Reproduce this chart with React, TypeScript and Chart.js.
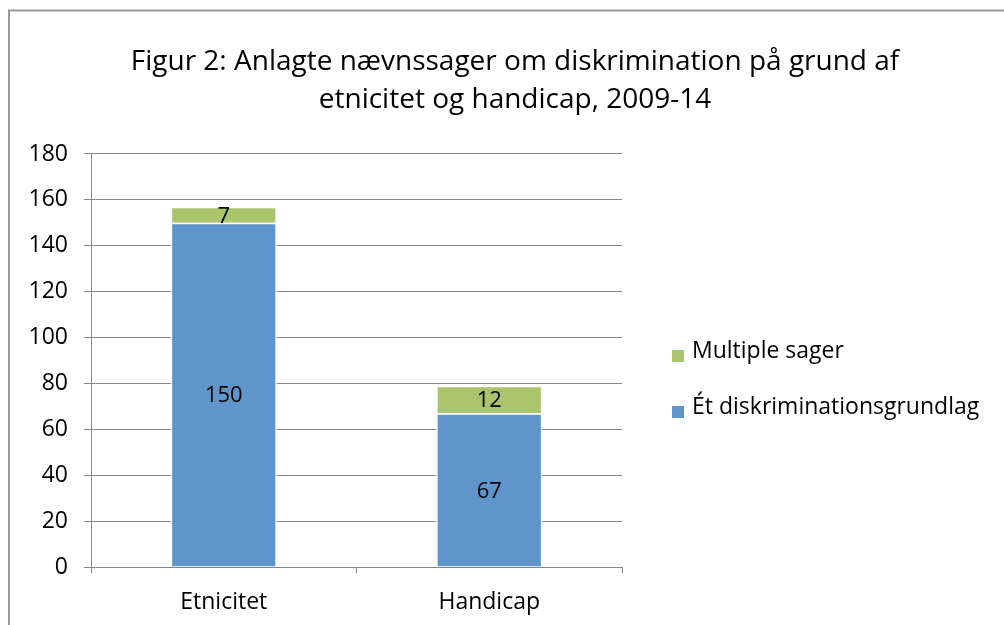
import React, { useEffect, useRef } from "react";
import { Chart, registerables } from "chart.js";

Chart.register(...registerables);

const categories = ["Etnicitet", "Handicap"];
const seriesNames = ["Ét diskriminationsgrundlag", "Multiple sager"];
const singleGround = [150, 67];
const multipleCases = [7, 12];
const titleLines = [
  "Figur 2: Anlagte nævnssager om diskrimination på grund af",
  "etnicitet og handicap, 2009-14",
];
const yMin = 0;
const yMax = 180;
const yStep = 20;

const FONT = "'Open Sans', Lato, sans-serif";
const BLUE = "#5F95CA";
const GREEN = "#A9C46C";

const framePlugin = {
  id: "frame",
  beforeDraw(chart: any) {
    const ctx = chart.ctx;
    ctx.save();
    ctx.fillStyle = "#ffffff";
    ctx.fillRect(0, 0, chart.width, chart.height);
    ctx.strokeStyle = "#9a9a9a";
    ctx.lineWidth = 2;
    ctx.beginPath();
    ctx.moveTo(9, chart.height + 5);
    ctx.lineTo(9, 10.5);
    ctx.lineTo(chart.width + 5, 10.5);
    ctx.stroke();
    ctx.restore();
  },
};

const valueLabelPlugin = {
  id: "valueLabels",
  afterDatasetsDraw(chart: any) {
    const ctx = chart.ctx;
    ctx.save();
    ctx.font = `22px ${FONT}`;
    ctx.fillStyle = "#000000";
    ctx.textAlign = "center";
    ctx.textBaseline = "middle";
    chart.data.datasets.forEach((ds: any, di: number) => {
      const meta = chart.getDatasetMeta(di);
      meta.data.forEach((bar: any, i: number) => {
        const v = ds.data[i];
        const cy = (bar.y + bar.base) / 2;
        ctx.fillText(String(v), bar.x, cy + 1.5);
      });
    });
    ctx.restore();
  },
};

const customLegendPlugin = {
  id: "customLegend",
  afterDraw(chart: any) {
    const ctx = chart.ctx;
    ctx.save();
    ctx.font = `23px ${FONT}`;
    ctx.textBaseline = "alphabetic";
    ctx.textAlign = "left";
    const ds = chart.data.datasets.slice().reverse();
    const x0 = 672;
    const yStart = 356;
    const gap = 56;
    ds.forEach((d: any, i: number) => {
      const y = yStart + i * gap;
      ctx.fillStyle = d.backgroundColor;
      ctx.fillRect(x0, y - 6, 12, 12);
      ctx.fillStyle = "#000000";
      ctx.fillText(d.label, x0 + 20, y + 2);
    });
    ctx.restore();
  },
};

export default function App() {
  const ref = useRef<HTMLCanvasElement>(null);
  useEffect(() => {
    if (!ref.current) return;
    const chart = new Chart(ref.current, {
      type: "bar",
      data: {
        labels: categories,
        datasets: [
          {
            label: seriesNames[0],
            data: singleGround,
            backgroundColor: BLUE,
            borderColor: "#ffffff",
            borderWidth: 1.5,
            categoryPercentage: 1,
            barPercentage: 0.4,
          },
          {
            label: seriesNames[1],
            data: multipleCases,
            backgroundColor: GREEN,
            borderColor: "#ffffff",
            borderWidth: 1.5,
            categoryPercentage: 1,
            barPercentage: 0.4,
          },
        ],
      },
      options: {
        animation: false,
        responsive: false,
        maintainAspectRatio: false,
        layout: { padding: { left: 30, right: 4, top: 0, bottom: 0 } },
        plugins: {
          legend: { display: false },
          tooltip: { enabled: false },
          title: {
            display: true,
            text: titleLines,
            color: "#000000",
            font: { family: FONT, size: 28, weight: "normal", lineHeight: 1.357 },
            padding: { top: 43, bottom: 35 },
          },
        },
        scales: {
          x: {
            stacked: true,
            offset: true,
            grid: {
              offset: true,
              drawOnChartArea: false,
              drawTicks: true,
              tickLength: 6,
              color: "#878787",
              lineWidth: 1,
            },
            border: { display: true, color: "#878787", width: 1 },
            ticks: { color: "#000000", font: { family: FONT, size: 23 }, padding: 16 },
            afterFit(scale: any) {
              scale.height = 58;
            },
          },
          y: {
            stacked: true,
            min: yMin,
            max: yMax,
            ticks: {
              stepSize: yStep,
              color: "#000000",
              font: { family: FONT, size: 23 },
              padding: 16,
            },
            grid: { color: "#878787", lineWidth: 1, tickLength: 7, drawTicks: true },
            border: { display: true, color: "#878787", width: 1 },
            afterFit(scale: any) {
              scale.width = 61;
            },
          },
          spacer: {
            type: "linear",
            position: "right",
            display: true,
            grid: { display: false, drawOnChartArea: false, drawTicks: false },
            border: { display: false },
            ticks: { display: false },
            afterFit(scale: any) {
              scale.width = 378;
            },
          },
        },
      },
      plugins: [framePlugin, valueLabelPlugin, customLegendPlugin],
    } as any);
    return () => chart.destroy();
  }, []);
  return (
    <div style={{ position: "fixed", left: 0, top: 0, width: 1004, height: 625 }}>
      <canvas ref={ref} width={1004} height={625} style={{ width: 1004, height: 625 }} />
    </div>
  );
}
